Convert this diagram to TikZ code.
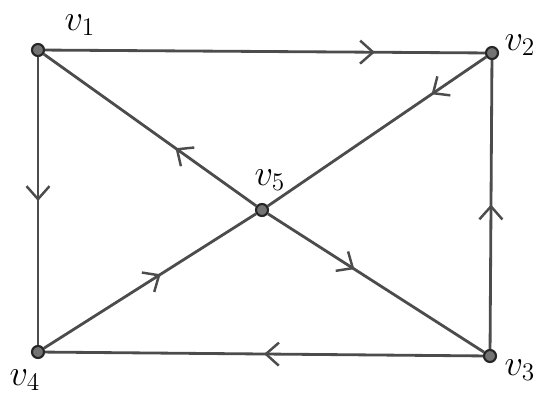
\documentclass[tikz,border=0pt]{standalone}
\usepackage{tikz}
\usetikzlibrary{arrows.meta,decorations.markings}

\begin{document}
\begin{tikzpicture}[
vertex/.style={circle, draw=black!85, fill=black!55, line width=1.2pt, inner sep=0pt, minimum size=0.24cm},
edge/.style={line width=1.6pt, black!70},
midarrow/.style={postaction={decorate, decoration={markings,
  mark=at position #1 with {\arrow{Straight Barb[length=2.6mm, width=4.6mm, line width=1.4pt]}}}}},
vlabel/.style={font=\huge, black, inner sep=1pt}
]
\useasboundingbox (0,0) rectangle (11,8.1);
\node[vertex] (v1) at (0.76,7.1) {};
\node[vertex] (v2) at (9.84,7.04) {};
\node[vertex] (v3) at (9.8,0.98) {};
\node[vertex] (v4) at (0.76,1.06) {};
\node[vertex] (v5) at (5.24,3.9) {};
% labels
\node[vlabel] (l1) at (1.6,7.6) {$v_1$};
\node[vlabel] (l2) at (10.4,7.2) {$v_2$};
\node[vlabel] (l3) at (10.4,0.7) {$v_3$};
\node[vlabel] (l4) at (0.5,0.5) {$v_4$};
\node[vlabel] (l5) at (5.4,4.5) {$v_5$};
% edges
\draw[edge, midarrow=0.75] (v1) -- (v2);
\draw[edge, midarrow=0.5] (v1) -- (v4);
\draw[edge, midarrow=0.5] (v3) -- (v2);
\draw[edge, midarrow=0.5] (v3) -- (v4);
\draw[edge, midarrow=0.55] (v4) -- (v5);
\draw[edge, midarrow=0.38] (v5) -- (v1);
\draw[edge, midarrow=0.25] (v2) -- (v5);
\draw[edge, midarrow=0.4] (v5) -- (v3);
\end{tikzpicture}
\end{document}
